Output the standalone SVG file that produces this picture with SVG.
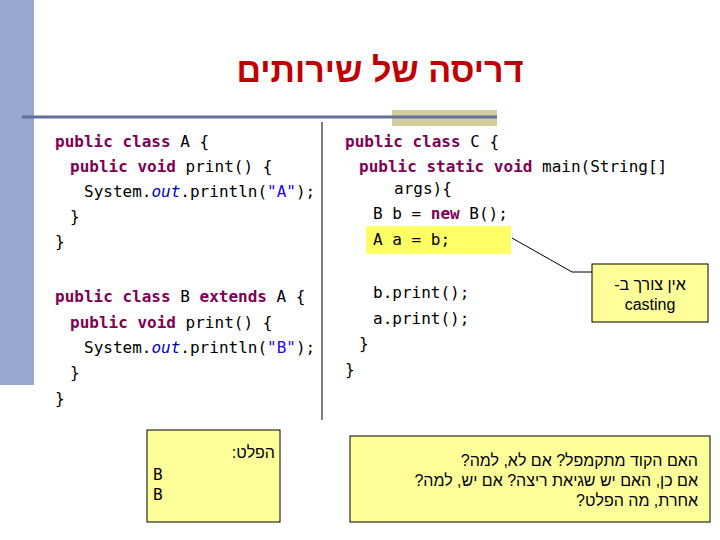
<svg xmlns="http://www.w3.org/2000/svg" width="720" height="540" viewBox="0 0 720 540">
<style>
.c{font-family:"DejaVu Sans Mono",monospace;font-size:16px;fill:#000;white-space:pre}
.k{fill:#7f0055;font-weight:bold}
.s{fill:#2a00ff}
.o{fill:#0000c0;font-style:italic}
.h{font-family:"Liberation Sans",Arial,sans-serif;font-size:16px;fill:#000}
.box{fill:#ffff99;stroke:#000;stroke-width:1}
</style>
<rect width="720" height="540" fill="#fff"/>
<rect x="0" y="0" width="34" height="385" fill="#98a6d0"/>
<rect x="392" y="110" width="105" height="16" fill="#d0cd9e"/>
<line x1="22" y1="117" x2="497" y2="117" stroke="#666e9a" stroke-width="3"/>
<text x="380" y="82" text-anchor="middle" font-family="Liberation Sans,Arial,sans-serif" font-weight="bold" font-size="34" fill="#c00000" direction="rtl">דריסה של שירותים</text>
<line x1="322" y1="122" x2="322" y2="420" stroke="#000" stroke-width="1"/>
<g id="classA">
<text class="c" x="55" y="147"><tspan class="k">public class</tspan> A {</text>
<text class="c" x="70" y="172"><tspan class="k">public void</tspan> print() {</text>
<text class="c" x="84" y="197">System.<tspan class="o">out</tspan>.println(<tspan class="s">"A"</tspan>);</text>
<text class="c" x="70" y="222">}</text>
<text class="c" x="55" y="247">}</text>
</g>
<g id="classB">
<text class="c" x="55" y="302"><tspan class="k">public class</tspan> B <tspan class="k">extends</tspan> A {</text>
<text class="c" x="70" y="328"><tspan class="k">public void</tspan> print() {</text>
<text class="c" x="84" y="353">System.<tspan class="o">out</tspan>.println(<tspan class="s">"B"</tspan>);</text>
<text class="c" x="70" y="378">}</text>
<text class="c" x="55" y="404">}</text>
</g>
<g id="classC">
<rect x="366" y="226" width="145" height="28" fill="#ffff66"/>
<text class="c" x="345" y="147"><tspan class="k">public class</tspan> C {</text>
<text class="c" x="359" y="172"><tspan class="k">public static void</tspan> main(String[]</text>
<text class="c" x="394" y="194">args){</text>
<text class="c" x="373" y="219">B b = <tspan class="k">new</tspan> B();</text>
<text class="c" x="373" y="245">A a = b;</text>
<text class="c" x="373" y="298">b.print();</text>
<text class="c" x="373" y="324">a.print();</text>
<text class="c" x="359" y="349">}</text>
<text class="c" x="345" y="375">}</text>
</g>
<g id="connectors">
<polyline points="512,238 572,272 592,272" fill="none" stroke="#000" stroke-width="1"/>
</g>
<g id="callout">
<rect class="box" x="592" y="264" width="116" height="58"/>
<text class="h" x="650" y="290" text-anchor="middle" direction="rtl">אין צורך ב-</text>
<text class="h" x="650" y="310" text-anchor="middle">casting</text>
</g>
<g id="output">
<rect class="box" x="147" y="430" width="133" height="92"/>
<text class="h" x="275" y="458" text-anchor="start" direction="rtl">הפלט:</text>
<text class="c" x="153" y="480">B</text>
<text class="c" x="153" y="500">B</text>
</g>
<g id="questions">
<rect class="box" x="350" y="436" width="360" height="86"/>
<text class="h" x="698" y="466" text-anchor="start" direction="rtl">האם הקוד מתקמפל? אם לא, למה?</text>
<text class="h" x="698" y="486" text-anchor="start" direction="rtl">אם כן, האם יש שגיאת ריצה? אם יש, למה?</text>
<text class="h" x="698" y="506" text-anchor="start" direction="rtl">אחרת, מה הפלט?</text>
</g>
</svg>
